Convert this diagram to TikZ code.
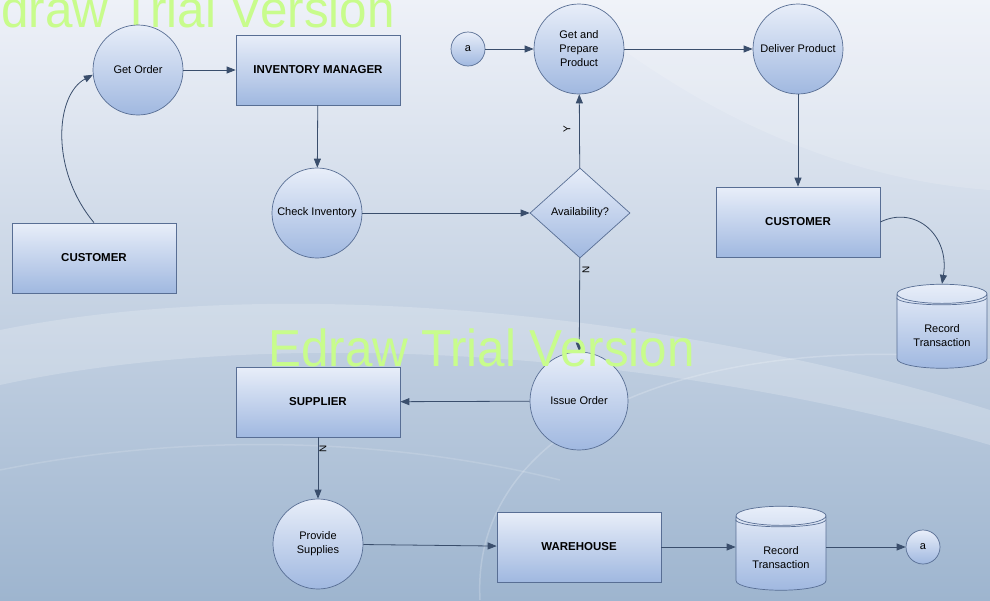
\documentclass[tikz,border=0pt]{standalone}
\usepackage{fontspec}
\setmainfont{Liberation Sans}
\usetikzlibrary{shapes.geometric}
\usetikzlibrary{arrows.meta}
\definecolor{edgeblue}{RGB}{58,78,108}
\definecolor{rimblue}{RGB}{88,110,148}
\definecolor{filltop}{RGB}{232,238,249}
\definecolor{fillbot}{RGB}{160,184,224}
\definecolor{bgtop}{RGB}{238,241,248}
\definecolor{bgbot}{RGB}{158,181,207}
\definecolor{wmgreen}{RGB}{200,252,140}
\tikzset{
  shade box/.style={draw=rimblue, line width=0.7pt, top color=filltop, bottom color=fillbot},
  proc/.style={shade box, circle, minimum size=90pt, inner sep=0pt, align=center,
    font=\fontsize{11}{14}\selectfont},
  ent/.style={shade box, rectangle, minimum width=164pt, minimum height=70pt,
    font=\fontsize{11.5}{13}\selectfont\bfseries},
  decide/.style={shade box, diamond, minimum width=100pt, minimum height=90pt, inner sep=0pt,
    font=\fontsize{11}{13}\selectfont},
  store/.style={shade box, cylinder, shape border rotate=90, aspect=0.3,
    minimum width=90pt, minimum height=84pt, align=center, font=\fontsize{11}{14}\selectfont},
  joint/.style={shade box, circle, minimum size=34pt, inner sep=0pt, font=\fontsize{11}{13}\selectfont},
  flow/.style={draw=edgeblue, line width=0.8pt, -{Triangle[length=9pt,width=7pt]}},
  yn/.style={font=\fontsize{10}{10}\selectfont, rotate=90},
  trial/.style={wmgreen, anchor=base west, inner sep=0pt, xscale=0.95, font=\fontsize{52}{52}\selectfont}
}
\begin{document}
\begin{tikzpicture}[x=1pt,y=1pt]
    \useasboundingbox (0,0) rectangle (990,-600);
    \clip (0,0) rectangle (990,-600);
    %background
    \shade[top color=bgtop, bottom color=bgbot] (0,0) rectangle (990,-600);
    \fill[white, opacity=0.2] (0,-330) .. controls (300,-270) and (700,-320) .. (990,-410)
      -- (990,-445) .. controls (700,-360) and (300,-320) .. (0,-385) -- cycle;
    \fill[white, opacity=0.15] (560,0) .. controls (700,-120) and (850,-180) .. (990,-190)
      -- (990,0) -- cycle;
    \draw[white, opacity=0.2, line width=1.5pt] (480,-600) .. controls (470,-420) and (700,-330) .. (990,-360);
    \draw[white, opacity=0.15, line width=1.5pt] (0,-470) .. controls (200,-430) and (400,-440) .. (560,-480);
    %watermark
    \node[trial] (wmtop) at (-32,-27) {Edraw Trial Version};
    %entities
    \node[ent] (custl) at (94,-258) {CUSTOMER};
    \node[ent] (invman) at (318,-70) {INVENTORY MANAGER};
    \node[ent] (custr) at (798,-222) {CUSTOMER};
    \node[ent] (supp) at (318,-402) {SUPPLIER};
    \node[ent] (ware) at (579,-547) {WAREHOUSE};
    %processes
    \node[proc] (getord) at (138,-70) {Get Order};
    \node[proc] (chkinv) at (317,-213) {Check Inventory};
    \node[proc] (prep) at (579,-49) {Get and\\Prepare\\Product};
    \node[proc] (deliv) at (798,-49) {Deliver Product};
    \node[proc, minimum size=98pt] (issue) at (579,-401) {Issue Order};
    \node[proc] (provide) at (318,-544) {Provide\\Supplies};
    \node[decide] (avail) at (580,-213) {Availability?};
    %stores and joints
    \node[store] (rectop) at (942,-333) {\\Record\\Transaction};
    \node[store] (recbot) at (781,-555) {\\Record\\Transaction};
    \draw[rimblue, line width=0.7pt] ([yshift=-4pt]rectop.before top) arc[start angle=180, end angle=360, x radius=45, y radius=7];
    \draw[rimblue, line width=0.7pt] ([yshift=-4pt]recbot.before top) arc[start angle=180, end angle=360, x radius=45, y radius=7];
    \node[joint] (atop) at (468,-49) {a};
    \node[joint] (abot) at (923,-547) {a};
    %flows
    \draw[flow] (custl.north) .. controls (50,-170) and (55,-95) .. (getord.186);
    \draw[flow] (getord) -- (invman);
    \draw[flow] (invman) -- (chkinv);
    \draw[flow] (chkinv) -- (avail);
    \draw[flow] (avail) -- (prep);
    \draw[flow] (avail) -- (issue);
    \draw[flow] (atop) -- (prep);
    \draw[flow] (prep) -- (deliv);
    \draw[flow] (deliv) -- (custr);
    \draw[flow] (custr.east) .. controls (915,-205) and (950,-235) .. (rectop.north);
    \draw[flow] (issue) -- (supp);
    \draw[flow] (supp) -- (provide);
    \draw[flow] (provide) -- (ware);
    \draw[flow] (ware.east) -- (ware.east -| recbot.west);
    \draw[flow] (recbot.east |- abot.west) -- (abot.west);
    %labels
    \node[yn] (lbly) at (567,-129) {Y};
    \node[yn] (lbln) at (586,-270) {N};
    \node[yn] (lblns) at (323,-449) {N};
    \node[trial] (wmmid) at (268,-366) {Edraw Trial Version};
\end{tikzpicture}
\end{document}
